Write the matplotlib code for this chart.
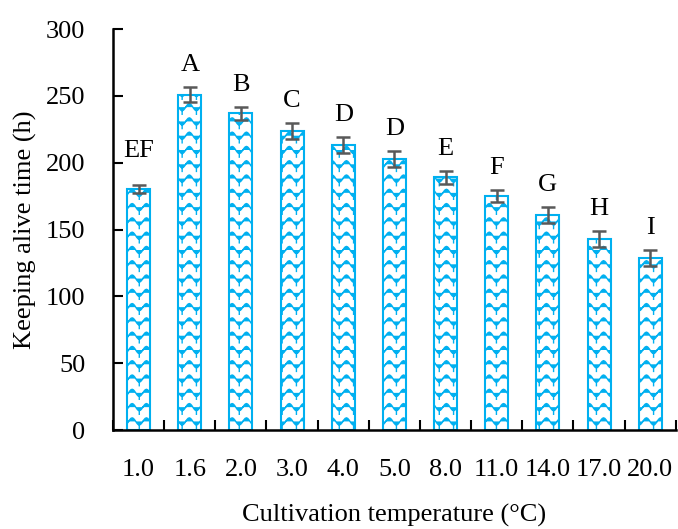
import matplotlib
matplotlib.use("Agg")
import matplotlib.pyplot as plt
import matplotlib.hatch as mhatch
from matplotlib.path import Path
import numpy as np

categories = ["1.0", "1.6", "2.0", "3.0", "4.0", "5.0", "8.0", "11.0", "14.0", "17.0", "20.0"]
values = [180, 251, 237, 224, 213, 203, 189, 175, 161, 143, 129]
errors = [3, 5.5, 5, 6, 6, 6, 5, 4.5, 6, 6, 6]
letters = ["EF", "A", "B", "C", "D", "D", "E", "F", "G", "H", "I"]


class WaveHatch(mhatch.HatchPatternBase):
    """Wavy pattern resembling the Office 'wave' fill."""
    SEG = 12

    def __init__(self, hatch, density):
        self.n = int(round(hatch.count('o') * density * 1.2))
        per_cell = (self.SEG + 1) + 2
        self.num_vertices = self.n * self.n * per_cell if self.n else 0

    def set_vertices_and_codes(self, vertices, codes):
        n = self.n
        s = 1.0 / n
        t = np.linspace(0, 1, self.SEG + 1)
        k = 0
        for i in range(n):
            for j in range(n):
                x0, y0 = i * s, j * s
                xs = x0 + t * s
                ys = y0 + s * (0.5 + 0.25 * np.sin(2 * np.pi * t))
                m = self.SEG + 1
                vertices[k:k + m, 0] = xs
                vertices[k:k + m, 1] = ys
                codes[k] = Path.MOVETO
                codes[k + 1:k + m] = Path.LINETO
                k += m
                vertices[k] = (x0 + 0.75 * s, y0 + 0.25 * s)
                vertices[k + 1] = (x0 + 0.75 * s, y0)
                codes[k] = Path.MOVETO
                codes[k + 1] = Path.LINETO
                k += 2


mhatch._hatch_types = [WaveHatch]

plt.rcParams['font.family'] = ['Liberation Serif', 'DejaVu Serif']
plt.rcParams['hatch.linewidth'] = 1.0
plt.rcParams['hatch.color'] = '#00B0F0'

FS = 19
fig = plt.figure(figsize=(6.78, 5.29), dpi=100)
ax = fig.add_axes([0.1667, 0.187, 0.83, 0.758])

x = np.arange(len(categories))
ax.bar(x, values, width=0.45, color='white', edgecolor='#00B0F0', linewidth=1.5,
       hatch='o', zorder=2)
ax.errorbar(x, values, yerr=errors, fmt='none', ecolor='#595959', elinewidth=1.8,
            capsize=5, capthick=1.8, zorder=3)
for i, (xi, v, e, t) in enumerate(zip(x, values, errors, letters)):
    off = 17 if i == 0 else 8
    ax.annotate(t, (xi, v + e), xytext=(0, off), textcoords='offset points',
                ha='center', va='bottom', fontsize=FS)

ax.set_xlim(-0.5, len(categories) - 0.5)
ax.set_ylim(0, 300)
ax.set_yticks([0, 50, 100, 150, 200, 250, 300])
ax.tick_params(axis='y', direction='in', length=7, width=1.5, labelsize=FS, pad=20)
ax.set_xticks(np.arange(len(categories) + 1) - 0.5)
ax.set_xticklabels([])
ax.tick_params(axis='x', which='major', direction='in', length=7, width=1.5)
ax.set_xticks(x, minor=True)
ax.set_xticklabels(categories, minor=True)
ax.tick_params(axis='x', which='minor', length=0, labelsize=FS, pad=21)

for s in ['top', 'right']:
    ax.spines[s].set_visible(False)
for s in ['left', 'bottom']:
    ax.spines[s].set_linewidth(1.8)

ax.set_ylabel('Keeping alive time (h)', fontsize=FS, labelpad=6)
ax.set_xlabel('Cultivation temperature (°C)', fontsize=FS, labelpad=16)

fig.savefig('out.png', dpi=100)
